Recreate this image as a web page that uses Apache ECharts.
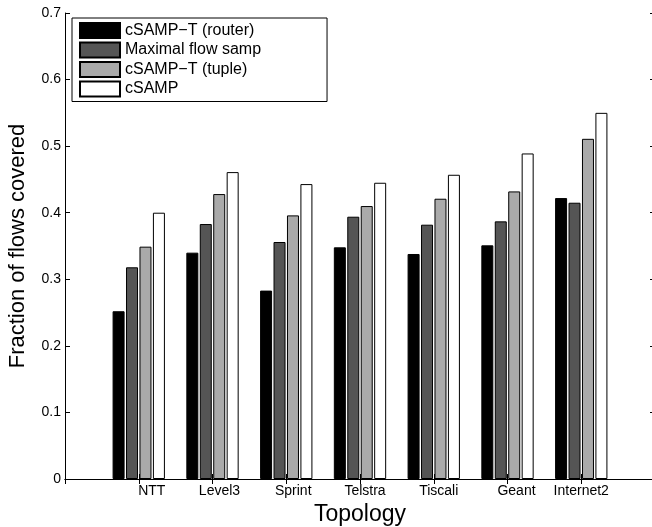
<!DOCTYPE html>
<html>
<head>
<meta charset="utf-8">
<script src="https://cdn.jsdelivr.net/npm/echarts@6/dist/echarts.min.js"></script>
<style>
  html, body { margin: 0; padding: 0; background: #fff; }
  #chart { width: 652px; height: 527px; }
</style>
</head>
<body>
<div id="chart"></div>
<script>
// topologies on the x axis
const topologies = ['NTT', 'Level3', 'Sprint', 'Telstra', 'Tiscali', 'Geant', 'Internet2'];
// series
const seriesNames = ['cSAMP\u2212T (router)', 'Maximal flow samp', 'cSAMP\u2212T (tuple)', 'cSAMP'];
const routerVals  = [0.252, 0.340, 0.283, 0.348, 0.338, 0.351, 0.422];
const maxFlowVals = [0.318, 0.383, 0.356, 0.394, 0.382, 0.387, 0.415];
const tupleVals   = [0.349, 0.428, 0.396, 0.410, 0.421, 0.432, 0.511];
const csampVals   = [0.400, 0.461, 0.443, 0.445, 0.457, 0.489, 0.550];
const yTicks = [0, 0.1, 0.2, 0.3, 0.4, 0.5, 0.6, 0.7];

const colors = ['#000000', '#555555', '#aaaaaa', '#ffffff'];
// the tick labels in the original sit a little right of the group centre
const labelShift = [13, 7, 7, 5, 5, 9, 0];

// empty slot on each side so the groups land on 1..7 of a 0..8 axis
const cats = [''].concat(topologies, ['']);
const pad = arr => [null].concat(arr, [null]);

const rich = {};
labelShift.forEach((s, i) => {
  rich['s' + i] = { fontSize: 14, color: '#000', fontFamily: 'Liberation Sans', padding: [0, 0, 0, 2 * s] };
});

const myChart = echarts.init(document.getElementById('chart'));

const makeBar = (name, vals, i) => ({
  name: name,
  type: 'bar',
  data: pad(vals),
  barWidth: 12,
  barGap: '12%',
  itemStyle: { color: colors[i], borderColor: '#000', borderWidth: 1 },
  z: 3
});

myChart.setOption({
  animation: false,
  backgroundColor: '#fff',
  textStyle: { fontFamily: 'Liberation Sans' },
  grid: { left: 65, right: -3, top: 13, bottom: 48, outerBoundsMode: 'none', containLabel: false },
  legend: {
    orient: 'vertical',
    left: 72,
    top: 18,
    data: seriesNames,
    icon: 'rect',
    itemWidth: 40,
    itemHeight: 15,
    itemGap: 2.5,
    padding: [4, 66, 4, 7],
    borderColor: '#000',
    borderWidth: 1,
    backgroundColor: '#fff',
    textStyle: { fontSize: 16, color: '#000', fontFamily: 'Liberation Sans' }
  },
  xAxis: [
    {
      type: 'category',
      data: cats,
      boundaryGap: false,
      name: 'Topology',
      nameLocation: 'middle',
      nameGap: 19,
      nameTextStyle: { fontSize: 23, color: '#000', fontFamily: 'Liberation Sans' },
      axisLine: { lineStyle: { color: '#000', width: 1 } },
      axisTick: { inside: true, length: 5, lineStyle: { color: '#000' } },
      axisLabel: {
        margin: 5,
        interval: 0,
        formatter: (v, idx) => v ? '{s' + (idx - 1) + '|' + v + '}' : '',
        rich: rich
      },
      splitLine: { show: false }
    },
    {
      type: 'category',
      data: cats,
      boundaryGap: false,
      position: 'top',
      axisLine: { lineStyle: { color: '#000', width: 1 } },
      axisTick: { inside: true, length: 5, lineStyle: { color: '#000' } },
      axisLabel: { show: false },
      splitLine: { show: false }
    }
  ],
  yAxis: [
    {
      type: 'value',
      min: yTicks[0],
      max: yTicks[yTicks.length - 1],
      interval: 0.1,
      name: 'Fraction of flows covered',
      nameLocation: 'middle',
      nameGap: 36,
      nameTextStyle: { fontSize: 22, color: '#000', fontFamily: 'Liberation Sans' },
      axisLine: { show: true, lineStyle: { color: '#000', width: 1 } },
      axisTick: { show: true, inside: true, length: 5, lineStyle: { color: '#000' } },
      axisLabel: { fontSize: 14, color: '#000', margin: 4, fontFamily: 'Liberation Sans' },
      splitLine: { show: false }
    },
    {
      type: 'value',
      min: yTicks[0],
      max: yTicks[yTicks.length - 1],
      interval: 0.1,
      position: 'right',
      axisLine: { show: true, lineStyle: { color: '#000', width: 1 } },
      axisTick: { show: true, inside: true, length: 5, lineStyle: { color: '#000' } },
      axisLabel: { show: false },
      splitLine: { show: false }
    }
  ],
  series: [
    makeBar(seriesNames[0], routerVals, 0),
    makeBar(seriesNames[1], maxFlowVals, 1),
    makeBar(seriesNames[2], tupleVals, 2),
    makeBar(seriesNames[3], csampVals, 3)
  ]
});
</script>
</body>
</html>
